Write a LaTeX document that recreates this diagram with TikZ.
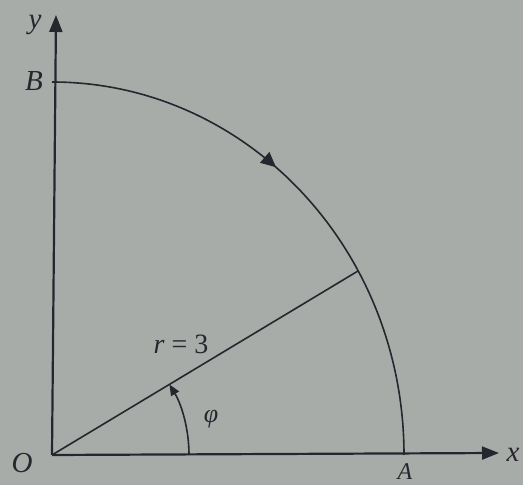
\documentclass[tikz,border=0pt]{standalone}
\usepackage{fontspec}
\setmainfont{Liberation Serif}
\usetikzlibrary{arrows.meta,decorations.markings}
\definecolor{bg}{RGB}{168,172,169}
\definecolor{ink}{RGB}{38,38,46}
\begin{document}
\begin{tikzpicture}[x=1pt,y=1pt,
  axis/.style={ink,line width=2.2pt,-{Triangle[length=17pt,width=13pt]}},
  curve/.style={ink,line width=1.6pt},
  lbl/.style={text=ink,font=\fontsize{29}{32}\selectfont\itshape,inner sep=0pt}]
\fill[bg] (0,0) rectangle (523,485);
\useasboundingbox (0,0) rectangle (523,485);
\coordinate (O) at (52,30);
\coordinate (X) at (499,32);
\coordinate (Y) at (56,470);
\coordinate (B) at (52,403);
\coordinate (A) at (404,30);
\coordinate (R) at (358,214);
% arc with direction mark
\draw[curve,decoration={markings,mark=at position 0.43 with {\arrow{Triangle[length=15pt,width=14pt]}}},postaction={decorate}]
  (B) arc[start angle=90,end angle=0,x radius=352,y radius=373];
% radius
\draw[curve] (O) -- (R);
% axes
\draw[axis] (O) -- (X);
\draw[axis] (O) -- (Y);
% phi arc
\draw[ink,line width=1.6pt,-{Triangle[length=11pt,width=9pt]}] ([shift={(0:137)}]O) arc[start angle=0,end angle=31,radius=137];
% labels
\node[lbl] (lo) at (22,22) {O};
\node[lbl] (lx) at (513,30) {x};
\node[lbl] (ly) at (35,460) {y};
\node[lbl] (lb) at (34,404) {B};
\node[lbl,font=\fontsize{24}{28}\selectfont\itshape] (la) at (405,13) {A};
\node[lbl,font=\fontsize{28}{32}\selectfont] (lr) at (181,141) {\textit{r} = 3};
\node[lbl,font=\fontsize{26}{30}\selectfont\itshape] (lp) at (211,66) {φ};
\end{tikzpicture}
\end{document}
